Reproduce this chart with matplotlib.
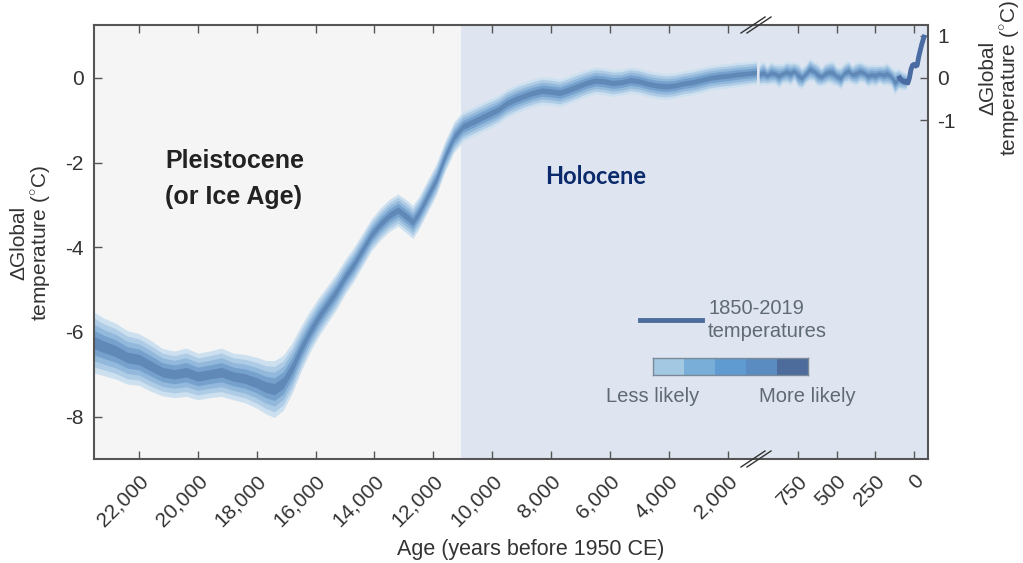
import numpy as np
import matplotlib
matplotlib.use('Agg')
import matplotlib.pyplot as plt
from matplotlib.colors import ListedColormap
from matplotlib.lines import Line2D
from matplotlib.transforms import blended_transform_factory

plt.rcParams['font.family'] = ['Liberation Sans', 'DejaVu Sans']
plt.rcParams['mathtext.fontset'] = 'custom'
plt.rcParams['mathtext.rm'] = 'Liberation Sans'

# ---------------- data ----------------
age_long = [23530, 23200, 22800, 22400, 22000, 21600, 21200, 20800, 20400, 20000,
            19600, 19200, 18800, 18400, 18000, 17700, 17400, 17100, 16800, 16500,
            16200, 15900, 15600, 15300, 15000, 14700, 14400, 14100, 13800, 13500,
            13200, 12900, 12700, 12500, 12200, 11900, 11600, 11300, 11000, 10700,
            10400, 10100, 9800, 9500, 9200, 8900, 8600, 8300, 8000, 7700,
            7400, 7100, 6800, 6500, 6200, 5900, 5600, 5300, 5000, 4700,
            4400, 4100, 3800, 3500, 3200, 2900, 2600, 2300, 2000, 1700,
            1400, 1000]
temp_long = [-6.25, -6.35, -6.45, -6.6, -6.65, -6.8, -6.95, -7.0, -6.95, -7.05,
             -7.0, -6.95, -7.05, -7.1, -7.2, -7.3, -7.35, -7.2, -6.85, -6.4,
             -6.0, -5.65, -5.35, -5.05, -4.7, -4.4, -4.05, -3.7, -3.45, -3.25,
             -3.12, -3.28, -3.4, -3.2, -2.8, -2.4, -1.85, -1.4, -1.15, -1.05,
             -0.95, -0.85, -0.75, -0.6, -0.5, -0.42, -0.35, -0.3, -0.32, -0.35,
             -0.28, -0.2, -0.12, -0.06, -0.08, -0.12, -0.1, -0.05, -0.08, -0.14,
             -0.18, -0.2, -0.18, -0.13, -0.1, -0.05, 0.0, 0.03, 0.05, 0.08,
             0.1, 0.13]
spread_long = [0.72, 0.68, 0.66, 0.63, 0.61, 0.6, 0.56, 0.55, 0.57, 0.55,
               0.55, 0.57, 0.55, 0.57, 0.6, 0.63, 0.67, 0.65, 0.6, 0.54,
               0.49, 0.46, 0.44, 0.43, 0.41, 0.4, 0.39, 0.38, 0.38, 0.38,
               0.38, 0.39, 0.39, 0.38, 0.38, 0.37, 0.36, 0.36, 0.36, 0.35,
               0.35, 0.35, 0.34, 0.34, 0.34, 0.33, 0.33, 0.33, 0.33, 0.33,
               0.33, 0.33, 0.32, 0.32, 0.32, 0.32, 0.31, 0.31, 0.31, 0.31,
               0.31, 0.31, 0.3, 0.3, 0.3, 0.3, 0.29, 0.29, 0.29, 0.29,
               0.28, 0.28]

age_recent = [1000, 975, 950, 925, 900, 875, 850, 825, 800, 775,
              750, 725, 700, 675, 650, 625, 600, 575, 550, 525,
              500, 475, 450, 425, 400, 375, 350, 325, 300, 275,
              250, 225, 200, 175, 150, 125, 100, 75, 50]
temp_recent = [0.08, 0.12, 0.06, 0.12, 0.1, 0.05, 0.1, 0.14, 0.1, 0.16,
               0.06, 0.0, 0.1, 0.2, 0.16, 0.08, 0.03, 0.1, 0.14, 0.12,
               0.04, 0.0, 0.12, 0.16, 0.08, 0.1, 0.15, 0.12, 0.05, 0.08,
               0.06, 0.1, 0.07, 0.1, 0.04, -0.1, -0.02, -0.06, -0.08]
spread_recent = [0.25, 0.28, 0.22, 0.27, 0.24, 0.29, 0.23, 0.26, 0.28, 0.22,
                 0.3, 0.25, 0.23, 0.27, 0.24, 0.28, 0.22, 0.26, 0.25, 0.29,
                 0.23, 0.27, 0.24, 0.26, 0.22, 0.28, 0.25, 0.23, 0.27, 0.24,
                 0.26, 0.22, 0.25, 0.27, 0.23, 0.3, 0.25, 0.22, 0.2]

age_obs = [100, 90, 80, 70, 60, 50, 40, 30, 20, 10, 0, -10, -20, -30, -40, -50, -60, -69]
temp_obs = [0.05, -0.02, -0.05, -0.08, -0.1, -0.08, -0.12, 0.0, 0.2, 0.3,
            0.32, 0.28, 0.3, 0.5, 0.65, 0.8, 0.92, 1.02]

xticks_long = [22000, 20000, 18000, 16000, 14000, 12000, 10000, 8000, 6000, 4000, 2000]
xticks_recent = [750, 500, 250, 0]
yticks_left = [0, -2, -4, -6, -8]
yticks_right = [1, 0, -1]
holocene_start = 11050
xlim_long = (23530, 1000)
xlim_recent = (1015, -90)
ylim = (-9, 1.25)

band_levels = [1.0, 0.8, 0.6, 0.4, 0.2]
band_colors = ['#cde0ef', '#afcce6', '#92b8dc', '#76a1cd', '#6089b8']
legend_colors = ['#a3c8e2', '#78aed7', '#5f9bd0', '#5a8cc2', '#4d6c9c']
obs_color = '#4a6ca3'
spine_color = '#555555'
tick_color = '#333333'

# ---------------- figure ----------------
W, H = 1023, 563
fig = plt.figure(figsize=(W / 100, H / 100), dpi=100)
L, R1, R2, B, T = 94, 757, 928, 459, 25
ax1 = fig.add_axes([L / W, 1 - B / H, (R1 - L) / W, (B - T) / H])
ax2 = fig.add_axes([R1 / W, 1 - B / H, (R2 - R1) / W, (B - T) / H])

for ax in (ax1, ax2):
    ax.set_ylim(*ylim)
ax1.set_xlim(*xlim_long)
ax2.set_xlim(*xlim_recent)

ax1.axvspan(xlim_long[0], holocene_start, color='#f5f5f5', lw=0, zorder=0)
ax1.axvspan(holocene_start, xlim_long[1], color='#dee5f0', lw=0, zorder=0)
ax2.set_facecolor('#dee5f0')

a = np.array(age_long); t = np.array(temp_long); s = np.array(spread_long)
for f, c in zip(band_levels, band_colors):
    ax1.fill_between(a, t - f * s, t + f * s, color=c, lw=0, zorder=2)
a = np.array(age_recent); t = np.array(temp_recent); s = np.array(spread_recent)
for f, c in zip(band_levels, band_colors):
    ax2.fill_between(a, t - f * s, t + f * s, color=c, lw=0, zorder=2)
ax2.plot(age_obs, temp_obs, color=obs_color, lw=3.5, zorder=3, solid_capstyle='butt')

# spines
for ax in (ax1, ax2):
    for sp in ax.spines.values():
        sp.set_color(spine_color)
        sp.set_linewidth(1.5)
ax1.spines['right'].set_visible(False)
ax2.spines['left'].set_visible(False)

# ticks
ax1.set_xticks(xticks_long, [f'{v:,}' for v in xticks_long], rotation=45,
               ha='right', va='top', rotation_mode='anchor')
ax2.set_xticks(xticks_recent, [f'{v:,}' for v in xticks_recent], rotation=45,
               ha='right', va='top', rotation_mode='anchor')
ax1.set_yticks(yticks_left, [f'{v:g}' for v in yticks_left])
ax2.set_yticks(yticks_right, [f'{v:g}' for v in yticks_right])
for ax in (ax1, ax2):
    ax.tick_params(axis='x', direction='in', top=True, bottom=True, length=6,
                   width=1, color=spine_color, labelsize=15, labelcolor=tick_color, pad=9)
ax1.tick_params(axis='y', direction='in', left=True, right=False, length=6,
                width=1, color=spine_color, labelsize=15, labelcolor=tick_color, pad=7.5)
ax2.tick_params(axis='y', direction='in', left=False, right=True, labelleft=False,
                labelright=True, length=6, width=1, color=spine_color,
                labelsize=15, labelcolor=tick_color, pad=6.5)

ylabel = 'ΔGlobal\ntemperature ($^{\\circ}$C)'
fig.text(31 / W, 1 - 243 / H, ylabel, rotation=90, ha='center', va='center',
         fontsize=15, color=tick_color, linespacing=1.05)
trans = blended_transform_factory(fig.transFigure, ax2.transData)
fig.text(1000 / W, 0.0, ylabel, transform=trans, rotation=90, ha='center', va='center',
         fontsize=15, color=tick_color, linespacing=1.05)

fig.text(531 / W, 1 - 549 / H, 'Age (years before 1950 CE)', ha='center', va='center',
         fontsize=15.5, color=tick_color)

# axis break marks
for yb in (B, T):
    for dx in (-3, 3):
        fig.add_artist(Line2D([(744 + dx) / W, (768 + dx) / W],
                              [1 - (yb + 8) / H, 1 - (yb - 8) / H],
                              color='#333333', lw=1, transform=fig.transFigure))

# period labels
fig.text(165 / W, 1 - 179 / H, 'Pleistocene\n(or Ice Age)', ha='left', va='center',
         fontsize=18, fontweight='bold', color='#222222', linespacing=1.6)
fig.text(596 / W, 1 - 177 / H, 'Holocene', ha='center', va='center',
         fontsize=17, fontweight='bold', color='#0b2a6b', family=['Lato', 'DejaVu Sans'])

# legend
fig.add_artist(Line2D([640 / W, 702 / W], [1 - 320 / H, 1 - 320 / H], color='#4d6c9c',
                      lw=3.5, transform=fig.transFigure))
legend_text = '#5f6a75'
fig.text(708 / W, 1 - 320 / H, '1850-2019\ntemperatures', ha='left', va='center',
         fontsize=14.5, color=legend_text, linespacing=1.3)
cax = fig.add_axes([653 / W, 1 - 375 / H, 155 / W, 17 / H])
cax.imshow([list(range(len(legend_colors)))], cmap=ListedColormap(legend_colors),
           aspect='auto')
cax.set_xticks([]); cax.set_yticks([])
for sp in cax.spines.values():
    sp.set_color('#7a8a99'); sp.set_linewidth(1)
fig.text(653 / W, 1 - 396 / H, 'Less likely', ha='center', va='center',
         fontsize=14.5, color=legend_text)
fig.text(807 / W, 1 - 396 / H, 'More likely', ha='center', va='center',
         fontsize=14.5, color=legend_text)

fig.savefig('out.png', dpi=100, facecolor='white')
